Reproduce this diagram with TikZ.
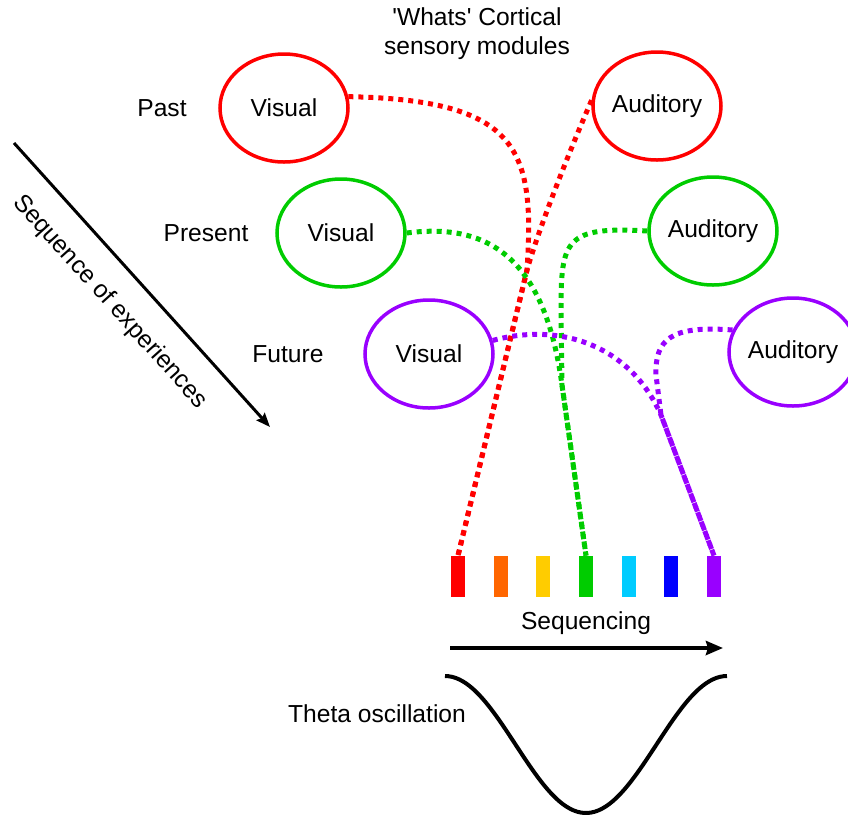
\documentclass[tikz,border=0pt]{standalone}
\usepackage{fontspec}
\setmainfont{Liberation Sans}
\usetikzlibrary{shapes.geometric,arrows.meta}
\definecolor{cred}{HTML}{FF0000}
\definecolor{corange}{HTML}{FF6600}
\definecolor{cyellow}{HTML}{FFCC00}
\definecolor{cgreen}{HTML}{00CC00}
\definecolor{ccyan}{HTML}{00CCFF}
\definecolor{cblue}{HTML}{0000FF}
\definecolor{cpurple}{HTML}{9900FF}

\begin{document}
\begin{tikzpicture}[x=0.5pt,y=-0.5pt,
  font=\fontsize{12.3}{14.5}\selectfont,
  module/.style={ellipse,draw,line width=1.75pt,minimum width=64pt,minimum height=54pt,inner sep=0pt},
  link/.style={line width=2.5pt,dash pattern=on 2.5pt off 2.5pt},
  bar/.style={rectangle,minimum width=7pt,minimum height=20.5pt,inner sep=0pt}]
\useasboundingbox (0,0) rectangle (848,816);

\node[align=center] (title) at (477,34) {\textquotesingle Whats\textquotesingle{} Cortical\\sensory modules};

\node (past) at (162,108) {Past};
\node (present) at (206,233) {Present};
\node (future) at (288,354) {Future};

\node[module,cred] (rv) at (284,108) {\color{black}Visual};
\node[module,cred] (ra) at (657,106) {\color{black}Auditory};
\node[module,cgreen] (gv) at (341,233) {\color{black}Visual};
\node[module,cgreen] (ga) at (713,231) {\color{black}Auditory};
\node[module,cpurple] (fv) at (429,354) {\color{black}Visual};
\node[module,cpurple] (fa) at (793,352) {\color{black}Auditory};

\coordinate (seqtop) at (14,143);
\coordinate (seqend) at (270,427);
\draw[line width=1.5pt,-{Stealth[length=7pt,width=5.5pt,inset=1pt]}] (seqtop) -- (seqend);
\node[rotate=-48] (seqlabel) at (110,302) {Sequence of experiences};

\foreach \c [count=\i] in {cred,corange,cyellow,cgreen,ccyan,cblue,cpurple}
  \node[bar,fill=\c] (b\i) at ({458+42.67*(\i-1)},576.5) {};

\coordinate (rjoin) at (527,270);
\coordinate (gjoin) at (562,385);
\coordinate (pjoin) at (661,415);

\draw[link,cred] (rv.10) .. controls (520,100) and (535,150) .. (rjoin) -- (b1.north);
\draw[link,cred] (ra.175) .. controls (570,150) and (540,225) .. (rjoin) -- (b1.north);
\draw[link,cgreen] (gv.east) .. controls (490,222) and (545,260) .. (gjoin) -- (b4.north);
\draw[link,cgreen] (ga.west) .. controls (565,226) and (561,240) .. (561,310) -- (gjoin) -- (b4.north);
\draw[link,cpurple] (fv.12) .. controls (560,322) and (630,345) .. (pjoin) -- (b7.north);
\draw[link,cpurple] (fa.160) .. controls (670,325) and (655,340) .. (656,375) -- (pjoin) -- (b7.north);

\node (seqing) at (586,623) {Sequencing};
\coordinate (arrstart) at (450,648);
\coordinate (arrend) at (723,648);
\draw[line width=2pt,-{Stealth[length=8.5pt,width=7pt,inset=1pt]}] (arrstart) -- (arrend);

\node (theta) at (377,714) {Theta oscillation};
\draw[line width=2pt] plot[domain=0:360,samples=80,smooth] ({445+0.7833*\x},{676+68.5*(1-cos(\x))});
\end{tikzpicture}
\end{document}
